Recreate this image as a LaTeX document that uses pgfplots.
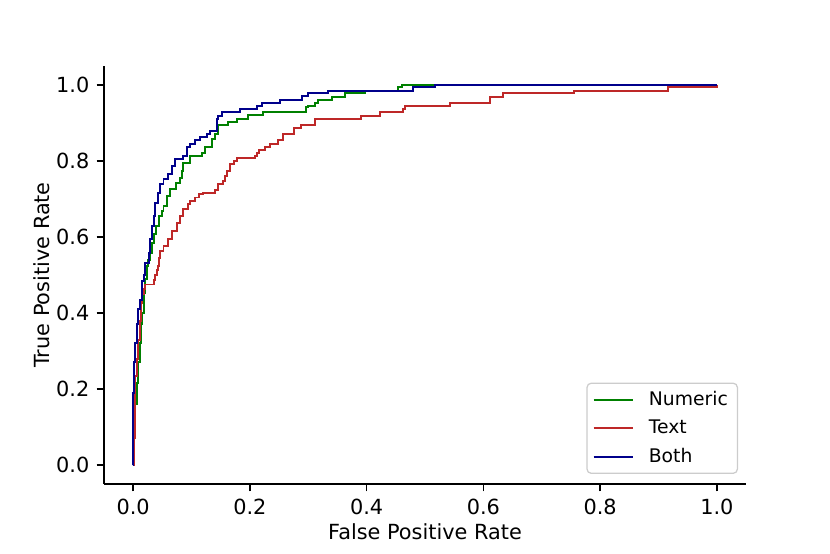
\documentclass[border=0pt]{standalone}
\usepackage{fontspec}
\setmainfont{DejaVu Sans}
\usepackage{pgfplots}
\pgfplotsset{compat=1.18}

\definecolor{cnum}{RGB}{0,128,0}
\definecolor{ctext}{RGB}{190,40,40}
\definecolor{cboth}{RGB}{0,0,139}

\begin{document}
\begin{tikzpicture}
\path[use as bounding box] (-49.9pt,-33.6pt) rectangle (348.5pt,232.3pt);
\begin{axis}[
    at={(0,0)}, anchor=south west,
    scale only axis,
    width=308.2pt, height=200.6pt,
    xmin=-0.05, xmax=1.05, ymin=-0.05, ymax=1.05,
    axis x line*=bottom, axis y line*=left,
    axis line style={line width=0.8pt},
    tick align=outside,
    major tick length=3.5pt,
    tick style={black, line width=0.8pt},
    xtick={0,0.2,0.4,0.6,0.8,1.0},
    ytick={0,0.2,0.4,0.6,0.8,1.0},
    /pgf/number format/assume math mode=true,
    /pgf/number format/fixed,
    /pgf/number format/fixed zerofill,
    /pgf/number format/precision=1,
    tick label style={font=\fontsize{10}{12}\selectfont},
    xlabel={False Positive Rate},
    ylabel={True Positive Rate},
    label style={font=\fontsize{10}{12}\selectfont},
    xlabel style={at={(axis description cs:0.5,-0.115)}, anchor=center},
    ylabel style={at={(axis description cs:-0.097,0.5)}, anchor=center},
    legend style={at={(axis description cs:0.9875,0.024)}, anchor=south east,
        draw=black!20, rounded corners=2pt, line width=0.6pt,
        font=\fontsize{9}{11}\selectfont,
        inner xsep=2.6pt, inner ysep=1.8pt, row sep=1.45pt,
        /tikz/every odd column/.append style={column sep=5.3pt}},
    legend cell align=left,
    legend image code/.code={\draw[#1, line width=1pt] (0cm,0cm) -- (0.66cm,0cm);},
    every axis plot/.append style={line width=0.95pt, const plot mark left, mark=none},
]

\addplot[color=cnum] coordinates {
(0,0) (0.001,0.05) (0.002,0.11) (0.004,0.16) (0.006,0.216) (0.008,0.27)
(0.011,0.321) (0.014,0.37) (0.016,0.40) (0.018,0.427) (0.019,0.453)
(0.021,0.49) (0.023,0.523) (0.026,0.54) (0.029,0.559) (0.032,0.585)
(0.035,0.607) (0.039,0.629) (0.045,0.655) (0.049,0.668) (0.052,0.681)
(0.058,0.708) (0.063,0.726) (0.074,0.743) (0.080,0.756) (0.083,0.775)
(0.085,0.796) (0.098,0.813) (0.118,0.822) (0.123,0.838) (0.135,0.858)
(0.140,0.871) (0.146,0.894) (0.163,0.903) (0.178,0.910) (0.197,0.921)
(0.223,0.928) (0.296,0.941) (0.300,0.945) (0.311,0.954) (0.317,0.961)
(0.340,0.969) (0.363,0.978) (0.398,0.985) (0.454,0.994) (0.460,1.0)
(1.0,1.0)
};
\addlegendentry{Numeric}

\addplot[color=ctext] coordinates {
(0,0) (0.001,0.07) (0.003,0.233) (0.006,0.28) (0.009,0.33) (0.011,0.38)
(0.013,0.427) (0.015,0.45) (0.018,0.462) (0.020,0.475) (0.035,0.488)
(0.038,0.501) (0.041,0.512) (0.043,0.523) (0.045,0.545) (0.046,0.563)
(0.052,0.576) (0.060,0.594) (0.066,0.616) (0.075,0.638) (0.080,0.655)
(0.086,0.673) (0.094,0.686) (0.098,0.695) (0.106,0.704) (0.112,0.712)
(0.120,0.717) (0.140,0.723) (0.146,0.739) (0.154,0.747) (0.157,0.76)
(0.160,0.774) (0.166,0.792) (0.172,0.800) (0.178,0.809) (0.209,0.813)
(0.212,0.822) (0.215,0.829) (0.226,0.837) (0.235,0.844) (0.248,0.855)
(0.256,0.871) (0.276,0.887) (0.287,0.894) (0.312,0.910) (0.390,0.919)
(0.423,0.928) (0.462,0.937) (0.466,0.944) (0.542,0.952) (0.611,0.969)
(0.634,0.979) (0.755,0.985) (0.916,0.994) (1.0,1.0)
};
\addlegendentry{Text}

\addplot[color=cboth] coordinates {
(0,0) (0.0005,0.19) (0.002,0.27) (0.003,0.32) (0.006,0.37) (0.009,0.41)
(0.011,0.435) (0.015,0.484) (0.018,0.50) (0.021,0.532) (0.027,0.559)
(0.029,0.594) (0.032,0.629) (0.035,0.655) (0.038,0.690) (0.043,0.717)
(0.046,0.739) (0.052,0.752) (0.060,0.765) (0.066,0.787) (0.072,0.805)
(0.086,0.813) (0.092,0.836) (0.098,0.844) (0.106,0.856) (0.115,0.862)
(0.126,0.871) (0.132,0.879) (0.143,0.910) (0.146,0.919) (0.152,0.928)
(0.183,0.937) (0.212,0.945) (0.220,0.952) (0.252,0.961) (0.289,0.970)
(0.300,0.978) (0.333,0.985) (0.480,0.994) (0.517,1.0) (1.0,1.0)
};
\addlegendentry{Both}

\end{axis}
\end{tikzpicture}
\end{document}
